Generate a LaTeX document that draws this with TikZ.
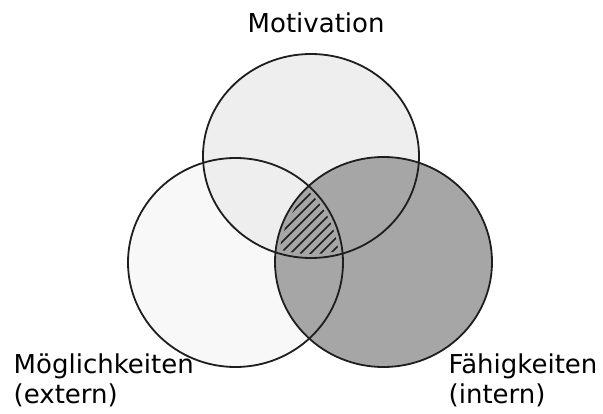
\documentclass[tikz,border=0pt]{standalone}
\usepackage{fontspec}
\setsansfont{DejaVu Sans}
\usetikzlibrary{positioning}
\definecolor{ctop}{HTML}{EEEEEE}
\definecolor{cleft}{HTML}{F8F8F8}
\definecolor{cright}{HTML}{A6A6A6}
\definecolor{cline}{HTML}{1E1E1E}
\tikzset{
  every picture/.style={font=\sffamily, line width=1.4pt},
  setline/.style={draw=cline, line width=1.8pt},
  hatch/.style={draw=cline, line width=1.5pt},
  setlabel/.style={font=\sffamily\fontsize{26}{30}\selectfont, anchor=base west, align=left, inner sep=0pt},
}
\def\motset{(311,156) ellipse [x radius=108pt, y radius=102pt]}
\def\extset{(235.5,262.5) ellipse [x radius=107.5pt, y radius=104.5pt]}
\def\intset{(383.5,262) ellipse [x radius=108.5pt, y radius=105pt]}

\begin{document}
\begin{tikzpicture}[x=1pt, y=-1pt]
  \useasboundingbox (0,0) rectangle (603,414);
  % fills first, outlines on top
  \fill[cleft] \extset;
  \fill[ctop] \motset;
  \fill[cright] \intset;
  % hatching a little inside the common part
  \begin{scope}
    \clip (311,156) ellipse [x radius=104pt, y radius=98pt];
    \clip (235.5,262.5) ellipse [x radius=103.5pt, y radius=100.5pt];
    \clip (383.5,262) ellipse [x radius=104.5pt, y radius=101pt];
    \foreach \c in {494,504,...,604}
      \draw[hatch] (\c-300,300) -- (\c-150,150);
  \end{scope}
  \draw[setline] \extset;
  \draw[setline] \motset;
  \draw[setline] \intset;
  \node[setlabel] (mot) at (247,33) {Motivation};
  \node[setlabel] (ext) at (13,403) {Möglichkeiten\\(extern)};
  \node[setlabel] (int) at (448,403) {Fähigkeiten\\(intern)};
\end{tikzpicture}
\end{document}
